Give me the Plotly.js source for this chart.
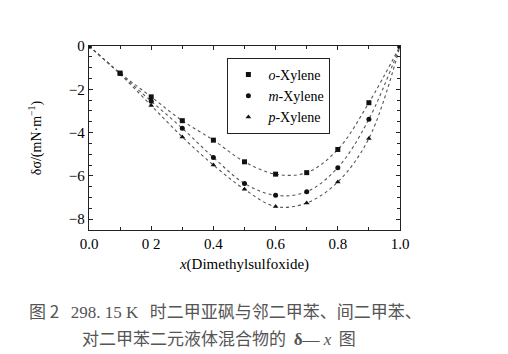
<!DOCTYPE html>
<html><head><meta charset="utf-8">
<script src="https://cdn.plot.ly/plotly-3.0.1.min.js"></script>
<style>html,body{margin:0;padding:0;background:#fff;}#c{width:508px;height:354px;}</style>
</head><body><div id="c"></div>
<script>
const xVals = [0.0, 0.1, 0.2, 0.3, 0.4, 0.5, 0.6, 0.7, 0.8, 0.9, 1.0];
const oXylene = [0, -1.25, -2.35, -3.45, -4.35, -5.35, -5.92, -5.85, -4.78, -2.62, 0];
const mXylene = [0, -1.27, -2.55, -3.8, -5.15, -6.35, -6.9, -6.73, -5.62, -3.38, 0];
const pXylene = [0, -1.3, -2.75, -4.2, -5.5, -6.62, -7.42, -7.25, -6.28, -4.27, 0];
const seriesNames = ['<i>o</i>-Xylene', '<i>m</i>-Xylene', '<i>p</i>-Xylene'];
const xTickVals = [0, 0.2, 0.4, 0.6, 0.8, 1.0];
const xTickText = ['0.0', '0 2', '0.4', '0.6', '0.8', '1.0'];
const yTickVals = [0, -2, -4, -6, -8];
const yTickText = ['0', '−2', '−4', '−6', '−8'];
const serifName = 'Liberation Serif';
const captionLine1 = '图 2   <span style="font-family:Liberation Serif">298. 15 K</span>   时二甲亚砜与邻二甲苯、间二甲苯、';
const captionLine2 = '对二甲苯二元液体混合物的  <span style="font-family:Liberation Serif"><b>δ</b>— <i>x</i></span>  图';

const sf = t => '<span style="font-family:Liberation Serif">' + t + '</span>';

const series = [oXylene, mXylene, pXylene];
const symbols = ['square', 'circle', 'triangle-up'];
const traces = [];
series.forEach((ys, i) => {
  traces.push({
    x: xVals, y: ys, type: 'scatter', mode: 'lines', showlegend: false,
    line: {shape: 'spline', smoothing: 1, dash: 'dot', width: 1.1, color: '#555'},
    hoverinfo: 'skip'
  });
});
series.forEach((ys, i) => {
  traces.push({
    x: xVals, y: ys, type: 'scatter', mode: 'markers', name: sf(seriesNames[i]),
    marker: {symbol: symbols[i], size: 5, color: '#111'}
  });
});

const font = {family: serifName, color: '#000'};
const cjk = 'Noto Sans CJK SC';
const layout = {
  width: 508, height: 354,
  margin: {l: 89, r: 108, t: 46, b: 124},
  paper_bgcolor: '#fff', plot_bgcolor: '#fff',
  font: Object.assign({size: 13}, font),
  showlegend: true,
  legend: {
    x: 0.445, y: 0.935, xanchor: 'left', yanchor: 'top',
    bordercolor: '#222', borderwidth: 1, bgcolor: '#fff',
    font: Object.assign({size: 14}, font),
    itemwidth: 30, tracegroupgap: 0
  },
  xaxis: {
    range: [0, 1], tickvals: xTickVals, ticktext: xTickText.map(sf),
    ticks: 'inside', ticklen: 4, tickwidth: 1, tickcolor: '#222',
    minor: {dtick: 0.1, ticks: 'inside', ticklen: 3, tickcolor: '#222'},
    showline: true, linecolor: '#222', linewidth: 1.2, mirror: 'ticks',
    showgrid: false, zeroline: false,
    tickfont: Object.assign({size: 15}, font),
    title: {text: sf('<i>x</i>(Dimethylsulfoxide)'), font: Object.assign({size: 15}, font), standoff: 7}
  },
  yaxis: {
    range: [-8.5, 0], tickvals: yTickVals, ticktext: yTickText.map(sf),
    ticks: 'inside', ticklen: 4, tickwidth: 1, tickcolor: '#222',
    minor: {dtick: 0.5, tick0: 0, ticks: 'inside', ticklen: 3, tickcolor: '#222'},
    showline: true, linecolor: '#222', linewidth: 1.2, mirror: 'ticks',
    showgrid: false, zeroline: false,
    tickfont: Object.assign({size: 15}, font),
    title: {text: sf('δσ/(mN·m<sup>−1</sup>)'), font: Object.assign({size: 14}, font), standoff: 24}
  },
  annotations: [
    {text: captionLine1, xref: 'paper', yref: 'paper', x: -0.2, y: -0.435, xanchor: 'left', yanchor: 'middle',
     showarrow: false, font: {family: cjk, size: 17, color: '#555'}},
    {text: captionLine2, xref: 'paper', yref: 'paper', x: -0.03, y: -0.585, xanchor: 'left', yanchor: 'middle',
     showarrow: false, font: {family: cjk, size: 17, color: '#555'}}
  ]
};
Plotly.newPlot('c', traces, layout, {displayModeBar: false, staticPlot: true});
</script></body></html>
